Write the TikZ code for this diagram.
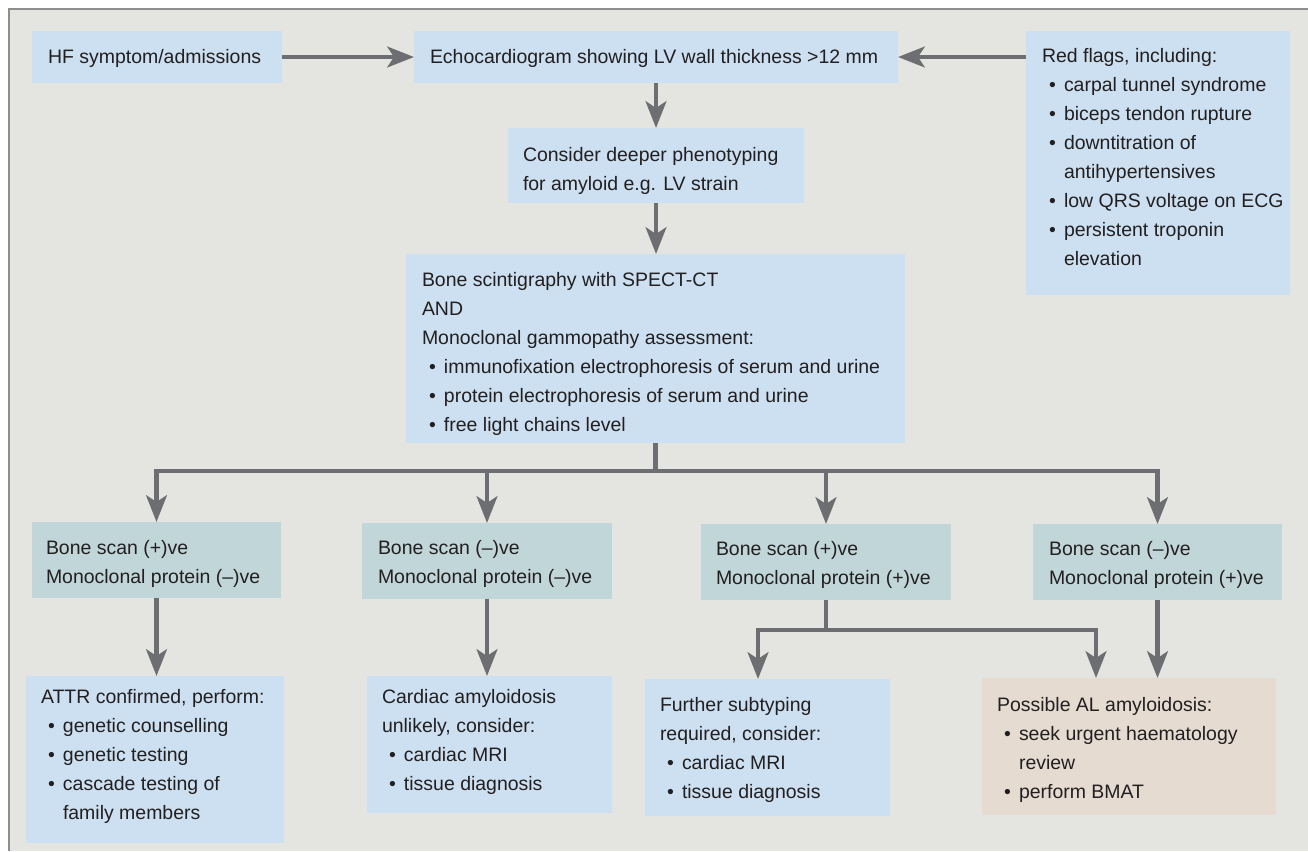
\documentclass[tikz,border=0pt]{standalone}
\usepackage{fontspec}
\setmainfont{Liberation Sans}
\usetikzlibrary{arrows.meta}
\definecolor{bgc}{HTML}{E4E5E0}
\definecolor{bluec}{HTML}{CCE0F1}
\definecolor{tealc}{HTML}{C1D6D8}
\definecolor{pinkc}{HTML}{E6DBD1}
\definecolor{arrc}{HTML}{6D6E71}
\definecolor{inkc}{HTML}{231F20}
\definecolor{framec}{HTML}{8E8E8E}
\newcommand\mybox[6]{\node[boxst, fill=#6, minimum width={(#4-#2)*0.75pt}, minimum height={(#5-#3)*0.75pt}] (#1) at ({(#2+#4)/2},{(#3+#5)/2}) {};}
\newcommand\mytext[4]{\node[txt] (#1) at (#2,#3) {\begin{tabular}[t]{@{}l@{}}#4\end{tabular}};}
\newcommand\itm[1]{\hspace*{5.25pt}\makebox[11.25pt][l]{\textbullet}#1}
\newcommand\cnt[1]{\hspace*{16.5pt}#1}
\begin{document}
\begin{tikzpicture}[x=0.75pt,y=-0.75pt,
  boxst/.style={draw=none, inner sep=0, outer sep=0, rectangle},
  txt/.style={anchor=base west, inner sep=0, outer sep=0, text=inkc, font=\fontsize{14.6pt}{21.75pt}\selectfont},
  conn/.style={draw=arrc, line width=3.4pt},
  arr/.style={conn, -{Stealth[length=20pt, width=15.5pt, inset=5pt]}},
  biarr/.style={conn, {Stealth[length=20pt, width=15.5pt, inset=5pt]}-{Stealth[length=20pt, width=15.5pt, inset=5pt]}}
]
\useasboundingbox (0,0) rectangle (1308,851);
\fill[white] (0,0) rectangle (1308,851);
\fill[bgc] (9,9) rectangle (1308,851);
\draw[framec, line width=1.2pt] (9,851) -- (9,9) -- (1308,9);

% boxes
\mybox{hf}{32}{31}{282}{83}{bluec}
\mybox{echo}{414}{31}{898}{83}{bluec}
\mybox{consider}{508}{128}{804}{203}{bluec}
\mybox{bone}{406}{254}{905}{443}{bluec}
\mybox{red}{1026}{31}{1290}{295}{bluec}
\mybox{m1}{32}{522}{281}{598}{tealc}
\mybox{m2}{362}{523}{612}{599}{tealc}
\mybox{m3}{701}{524}{951}{600}{tealc}
\mybox{m4}{1033}{524}{1282}{600}{tealc}
\mybox{b1}{26}{676}{284}{843}{bluec}
\mybox{b2}{367}{676}{612}{813}{bluec}
\mybox{b3}{645}{679}{890}{816}{bluec}
\mybox{b4}{982}{678}{1276}{815}{pinkc}

% texts
\mytext{thf}{48}{63}{HF symptom/admissions}
\mytext{techo}{430}{63}{Echocardiogram showing LV wall thickness >12 mm}
\mytext{tconsider}{523}{161}{Consider deeper phenotyping\\for amyloid e.g. LV strain}
\mytext{tbone}{422}{286}{Bone scintigraphy with SPECT-CT\\AND\\Monoclonal gammopathy assessment:\\\itm{immunofixation electrophoresis of serum and urine}\\\itm{protein electrophoresis of serum and urine}\\\itm{free light chains level}}
\mytext{tred}{1042}{62}{Red flags, including:\\\itm{carpal tunnel syndrome}\\\itm{biceps tendon rupture}\\\itm{downtitration of}\\\cnt{antihypertensives}\\\itm{low QRS voltage on ECG}\\\itm{persistent troponin}\\\cnt{elevation}}
\mytext{tm1}{46}{554}{Bone scan (+)ve\\Monoclonal protein (–)ve}
\mytext{tm2}{378}{554}{Bone scan (–)ve\\Monoclonal protein (–)ve}
\mytext{tm3}{716}{555}{Bone scan (+)ve\\Monoclonal protein (+)ve}
\mytext{tm4}{1049}{555}{Bone scan (–)ve\\Monoclonal protein (+)ve}
\mytext{tb1}{41}{703}{ATTR confirmed, perform:\\\itm{genetic counselling}\\\itm{genetic testing}\\\itm{cascade testing of}\\\cnt{family members}}
\mytext{tb2}{382}{703}{Cardiac amyloidosis\\unlikely, consider:\\\itm{cardiac MRI}\\\itm{tissue diagnosis}}
\mytext{tb3}{660}{711}{Further subtyping\\required, consider:\\\itm{cardiac MRI}\\\itm{tissue diagnosis}}
\mytext{tb4}{997}{711}{Possible AL amyloidosis:\\\itm{seek urgent haematology}\\\cnt{review}\\\itm{perform BMAT}}

% connectors
\coordinate (br) at (655.5,471);
\coordinate (sL) at (758,630);
\coordinate (sR) at (1096,630);
\draw[arr] (hf.east) -- (echo.west);
\draw[arr] (echo.east -| red.west) -- (echo.east);
\draw[arr] (echo.south) -- (consider.north);
\draw[arr] (consider.south) -- (consider.south |- bone.north);
\draw[conn] (bone.south) -- (br);
\draw[biarr] (m1.north) -- (m1.north |- br) -- (m4.north |- br) -- (m4.north);
\draw[arr] (m2.north |- br) -- (m2.north);
\draw[arr] (m3.north |- br) -- (m3.north);
\draw[arr] (m1.south) -- (m1.south |- b1.north);
\draw[arr] (m2.south) -- (m2.south |- b2.north);
\draw[conn] (m3.south) -- (m3.south |- sL);
\draw[biarr] (sL |- b3.north) -- (sL) -- (sR) -- (sR |- b4.north);
\draw[arr] (m4.south) -- (m4.south |- b4.north);
\end{tikzpicture}
\end{document}
